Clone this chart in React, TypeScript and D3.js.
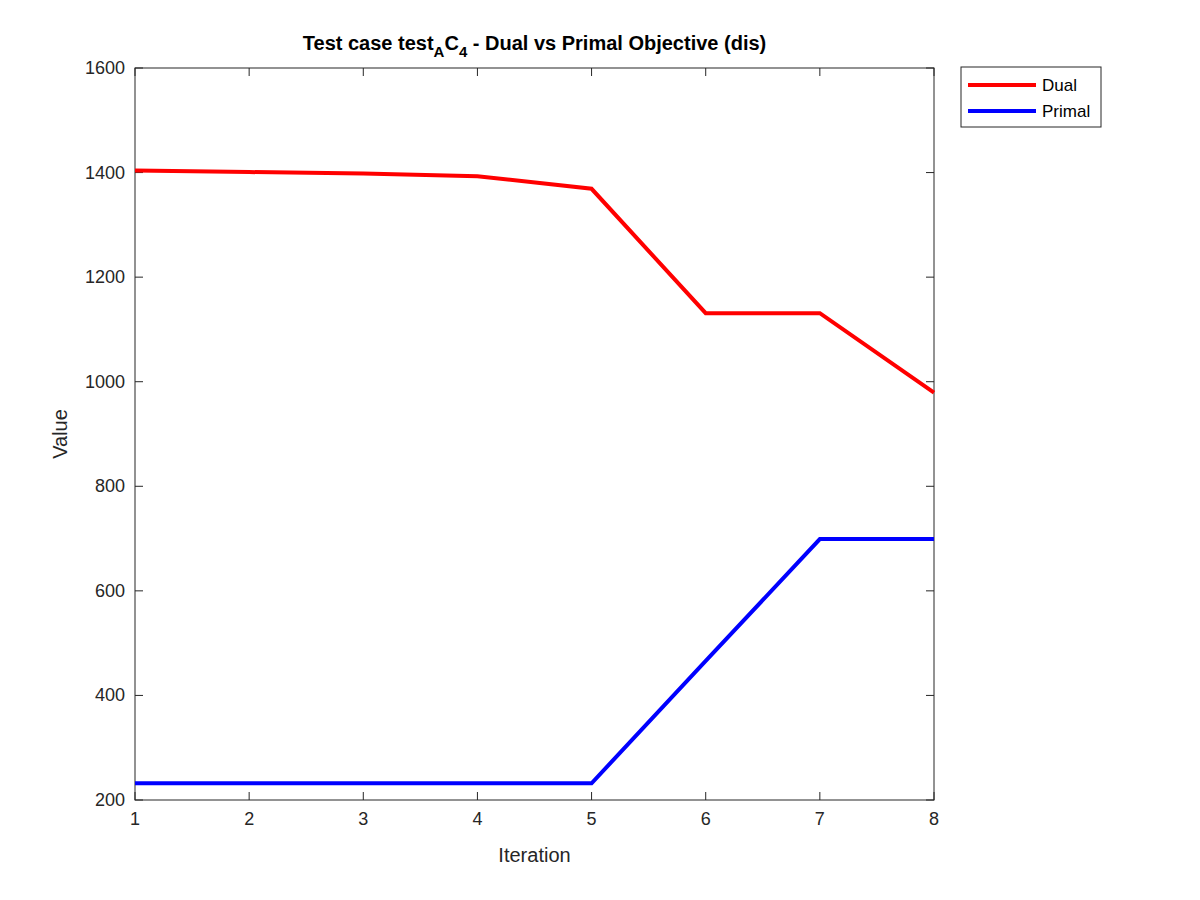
import React from "react";
import * as d3 from "d3";

const iterations = [1, 2, 3, 4, 5, 6, 7, 8];
const dualValues = [1404, 1401, 1398, 1393, 1369, 1131, 1131, 979];
const primalValues = [232, 232, 232, 232, 232, 466, 699, 699];
const xTicks = [1, 2, 3, 4, 5, 6, 7, 8];
const yTicks = [200, 400, 600, 800, 1000, 1200, 1400, 1600];

export default function App() {
  const L = 135, R = 934, T = 68, B = 800;
  const x = d3.scaleLinear().domain([1, 8]).range([L, R]);
  const y = d3.scaleLinear().domain([200, 1600]).range([B, T]);
  const line = d3.line<number>().x((_, i) => x(iterations[i])).y((d) => y(d));
  const font = "Helvetica, Arial, 'Liberation Sans', sans-serif";
  return (
    <div style={{ position: "absolute", left: 0, top: 0 }}>
      <svg width={1200} height={900} style={{ display: "block", background: "#fff" }} fontFamily={font}>
        <rect x={L} y={T} width={R - L} height={B - T} fill="#fff" stroke="#262626" strokeWidth={1} />
        {xTicks.map((t) => (
          <g key={"x" + t}>
            <line x1={x(t)} x2={x(t)} y1={B} y2={B - 8} stroke="#262626" />
            <line x1={x(t)} x2={x(t)} y1={T} y2={T + 8} stroke="#262626" />
            <text x={x(t)} y={B + 25} textAnchor="middle" fontSize={18} fill="#262626">{t}</text>
          </g>
        ))}
        {yTicks.map((t) => (
          <g key={"y" + t}>
            <line x1={L} x2={L + 8} y1={y(t)} y2={y(t)} stroke="#262626" />
            <line x1={R} x2={R - 8} y1={y(t)} y2={y(t)} stroke="#262626" />
            <text x={L - 10} y={y(t) + 6} textAnchor="end" fontSize={18} fill="#262626">{t}</text>
          </g>
        ))}
        <path d={line(dualValues) || ""} fill="none" stroke="#ff0000" strokeWidth={4} />
        <path d={line(primalValues) || ""} fill="none" stroke="#0000ff" strokeWidth={4} />
        <text x={(L + R) / 2} y={862} textAnchor="middle" fontSize={20} fill="#262626">Iteration</text>
        <text transform={`translate(67,${(T + B) / 2}) rotate(-90)`} textAnchor="middle" fontSize={20} fill="#262626">Value</text>
        <text x={(L + R) / 2} y={50} textAnchor="middle" fontSize={20} fontWeight="bold" fill="#000">
          Test case test<tspan fontSize={15} dy={7}>A</tspan><tspan dy={-7}>C</tspan><tspan fontSize={15} dy={7}>4</tspan><tspan dy={-7}> - Dual vs Primal Objective (dis)</tspan>
        </text>
        <rect x={961} y={67} width={140} height={60} fill="#fff" stroke="#262626" />
        <line x1={968} x2={1036} y1={85} y2={85} stroke="#ff0000" strokeWidth={4} />
        <text x={1042} y={91} fontSize={17} fill="#000">Dual</text>
        <line x1={968} x2={1036} y1={111} y2={111} stroke="#0000ff" strokeWidth={4} />
        <text x={1042} y={117} fontSize={17} fill="#000">Primal</text>
      </svg>
    </div>
  );
}
